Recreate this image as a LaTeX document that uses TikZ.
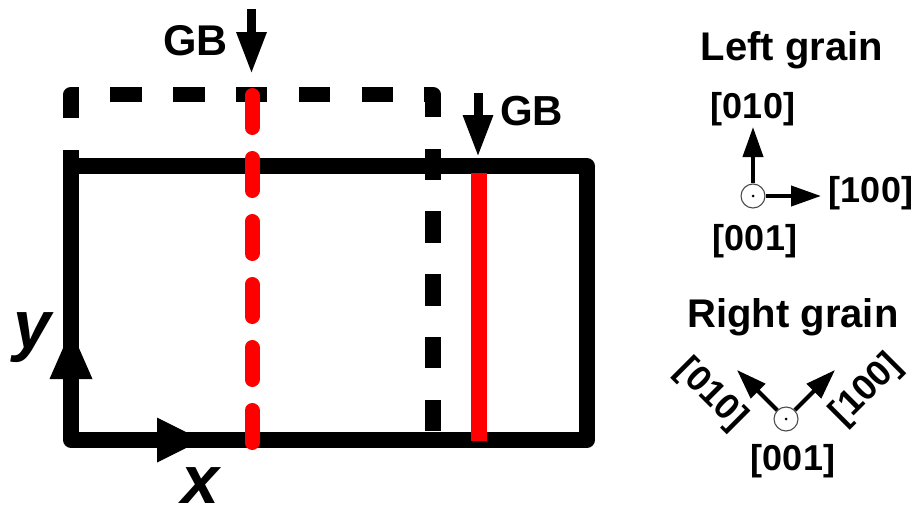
\documentclass[tikz,border=0pt]{standalone}
\usepackage{fontspec}
\setmainfont{Liberation Sans}
\usetikzlibrary{arrows.meta}
\tikzset{
  lbl/.style={inner sep=0pt, font=\bfseries\fontsize{#1}{#1}\selectfont},
  lbl/.default=36,
  axlbl/.style={inner sep=0pt, anchor=base, font=\bfseries\itshape\fontsize{68}{68}\selectfont},
  frame/.style={line width=15.5pt, line join=round},
  gbarrow/.style={line width=9pt, -{Triangle[length=42pt,width=28pt]}},
  dirarrow/.style={line width=4pt, -{Triangle[length=30pt,width=20pt]}},
  origin/.style={circle, draw=black!70, line width=1.1pt, fill=white, minimum size=24pt, inner sep=0pt},
}
\begin{document}
\begin{tikzpicture}[x=1pt,y=-1pt]
\useasboundingbox (0,0) rectangle (920,506);
% dashed (previous) boundary
\draw[frame, dash pattern=on 31.4pt off 31.4pt] (71,118) -- (71,94.5) -- (433,94.5) -- (433,440);
% solid boundary
\draw[frame] (71,150) -- (71,440) -- (587,440) -- (587,166) -- (71,166);
% axis arrowheads
\fill (71,330) -- (49.5,379) -- (92.5,379) -- cycle;
\fill (202,440) -- (157,417.5) -- (157,462.5) -- cycle;
\node[axlbl] (ylab) at (32,348) {y};
\node[axlbl] (xlab) at (200,503) {x};
% grain boundaries
\draw[red, line width=15pt, line cap=round, dash pattern=on 32pt off 31pt] (252,95.5) -- (252,442.5);
\draw[red, line width=16pt] (479,173) -- (479,441);
% GB arrows and labels
\coordinate (gb1s) at (251.5,9);
\coordinate (gb1t) at (251.5,74);
\draw[gbarrow] (gb1s) -- (gb1t);
\node[lbl=43, anchor=base] (gb1) at (195.5,55) {GB};
\coordinate (gb2s) at (478,93);
\coordinate (gb2t) at (478,157);
\draw[gbarrow] (gb2s) -- (gb2t);
\node[lbl=42, anchor=base] (gb2) at (531.5,125) {GB};
% Left grain
\node[lbl=40, anchor=base] (lg) at (792,60) {Left grain};
\node[origin] (o1) at (753,196) {};
\fill (o1.center) circle (1.5pt);
\coordinate (l010) at (753,127);
\coordinate (l100) at (821,196);
\draw[dirarrow] (o1.north) -- (l010);
\draw[dirarrow] (o1.east) -- (l100);
\node[lbl, anchor=base] (t1) at (753,118) {[010]};
\node[lbl, anchor=base] (t2) at (871,202) {[100]};
\node[lbl, anchor=base] (t3) at (755,250) {[001]};
% Right grain
\node[lbl=40, anchor=base] (rg) at (793,327) {Right grain};
\node[origin] (o2) at (786,419) {};
\fill (o2.center) circle (1.5pt);
\coordinate (r010) at (737,370);
\coordinate (r100) at (835,370);
\draw[dirarrow] (o2.north west) -- (r010);
\draw[dirarrow] (o2.north east) -- (r100);
\node[lbl, rotate=-45] (t4) at (711,395) {[010]};
\node[lbl, rotate=45] (t5) at (867,390) {[100]};
\node[lbl, anchor=base] (t6) at (793,470) {[001]};
\end{tikzpicture}
\end{document}
